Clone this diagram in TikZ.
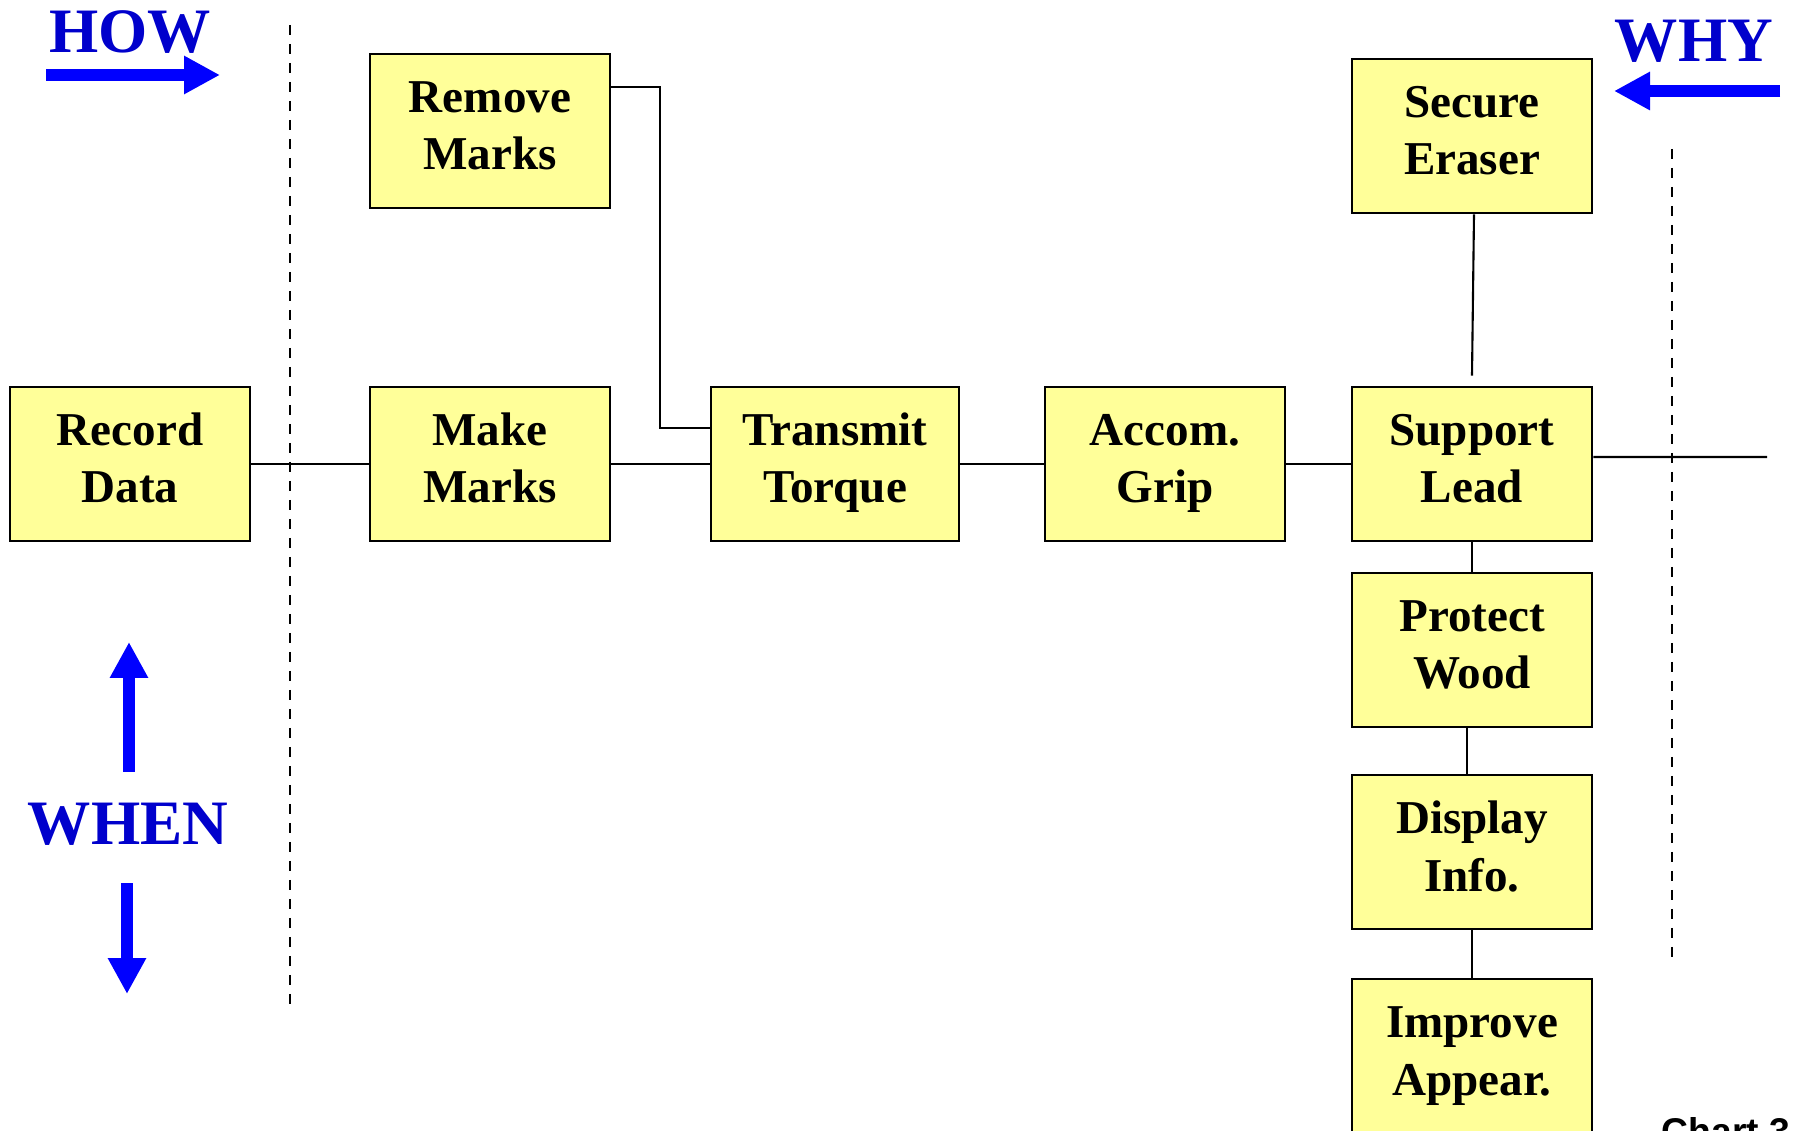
\documentclass[tikz,border=0pt]{standalone}
\usepackage{fontspec}
\setmainfont{Liberation Serif}
\newfontfamily\chartfont{Liberation Sans}
\usetikzlibrary{arrows.meta}
\definecolor{cueblue}{RGB}{0,0,204}
\definecolor{arrowblue}{RGB}{0,0,255}
\definecolor{boxyellow}{RGB}{255,255,153}

\begin{document}
\begin{tikzpicture}[
        x=0.1mm, y=-0.1mm,
        box/.style={
            draw,
            rectangle,
            minimum width=24mm,
            minimum height=15.4mm,
            text height=8mm,
            text depth=0.2mm,
            align=center,
            fill=boxyellow,
            draw=black,
            line width=0.8pt,
            font=\fontsize{13.4}{16.5}\selectfont\bfseries
        },
        link/.style={
            line width=0.6pt
        },
        bigarrow/.style={
            -{Triangle[length=3.6mm, width=3.6mm]},
            line width=1.2mm,
            arrowblue
        },
        cue/.style={
            font=\fontsize{18}{20}\selectfont\bfseries,
            text=cueblue,
            anchor=base,
            inner sep=0pt
        },
        divider/.style={
            dash pattern=on 1mm off 0.9mm,
            line width=0.6pt
        }
    ]
    \useasboundingbox (0,0) rectangle (1796,1131);

    % direction cues
    \node (how) [cue] at (130,53) {HOW};
    \node (why) [cue] at (1694,62) {WHY};
    \node (when) [cue] at (128,845) {WHEN};
    \draw[bigarrow] (46,75) -- (220,75);
    \draw[bigarrow] (1780,91) -- (1614,91);
    \draw[bigarrow] (129,772) -- (129,642);
    \draw[bigarrow] (127,883) -- (127,994);

    % scope lines
    \draw[divider] (290,25) -- (290,1008);
    \draw[divider] (1672,149) -- (1672,962);

    % function boxes
    \node (record) [box] at (130,464) {Record\\Data};
    \node (make) [box] at (490,464) {Make\\Marks};
    \node (remove) [box] at (490,131) {Remove\\Marks};
    \node (transmit) [box, minimum width=24.8mm] at (835,464) {Transmit\\Torque};
    \node (grip) [box] at (1165,464) {Accom.\\Grip};
    \node (support) [box] at (1472,464) {Support\\Lead};
    \node (secure) [box] at (1472,136) {Secure\\Eraser};
    \node (protect) [box] at (1472,650) {Protect\\Wood};
    \node (display) [box] at (1472,852) {Display\\Info.};
    \node (improve) [box] at (1472,1056) {Improve\\Appear.};

    \node (chart) [anchor=base west, inner sep=0pt,
        font=\chartfont\fontsize{10.6}{12}\selectfont\bfseries] at (1661,1144) {Chart 3};

    % links
    \coordinate (out) at (1767,457);
    \draw[link] (record) -- (make);
    \draw[link] (make) -- (transmit);
    \draw[link] ([yshift=4.4mm]remove.east) -- ++(4.9mm,0) |- ([yshift=3.6mm]transmit.west);
    \draw[link] (transmit) -- (grip);
    \draw[link] (grip) -- (support);
    \draw[link] ([xshift=0.2mm]secure.south) -- ([yshift=1mm]support.north);
    \draw[link] ([yshift=0.7mm]support.east) -- (out);
    \draw[link] (support) -- (protect);
    \draw[link] ([xshift=-0.5mm]protect.south) -- ([xshift=-0.5mm]display.north);
    \draw[link] (display) -- (improve);
\end{tikzpicture}
\end{document}
